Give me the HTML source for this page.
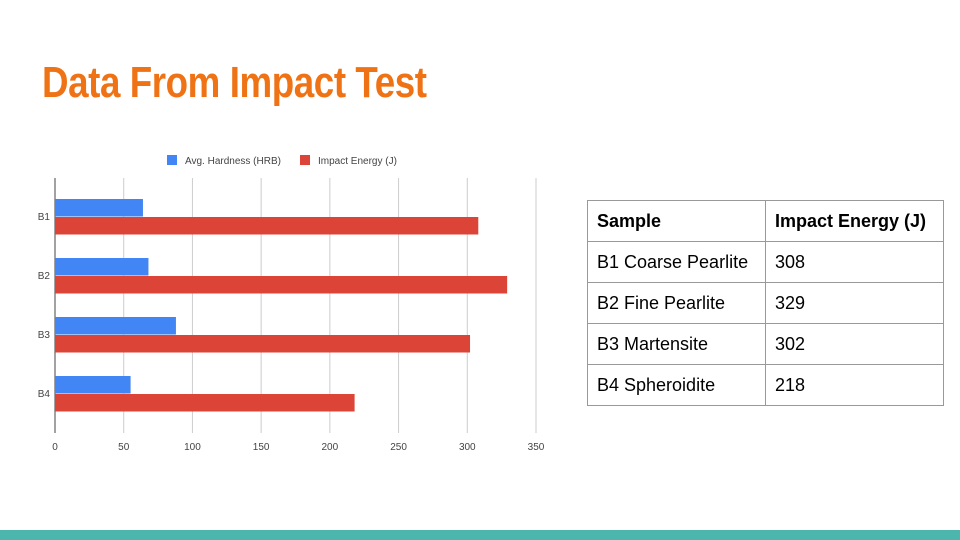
<!DOCTYPE html>
<html><head><meta charset="utf-8"><style>
body{margin:0;width:960px;height:540px;background:#fff;position:relative;overflow:hidden;font-family:"Liberation Sans",sans-serif}
#title{position:absolute;left:42px;top:58px;font-size:44px;font-weight:bold;color:#ef7215;white-space:nowrap;transform:scaleX(0.835);transform-origin:0 0;letter-spacing:-0.5px}
#tbl{position:absolute;left:587px;top:200px;border-collapse:collapse;font-size:18px;color:#000}
#tbl td{border:1px solid #999;height:41px;padding:0 9px;box-sizing:border-box}
#footer{position:absolute;left:0;top:530px;width:960px;height:10px;background:#4db6ac}
</style></head><body>
<div id="title">Data From Impact Test</div>
<svg id="chart" width="560" height="470" style="position:absolute;left:0;top:0"></svg>
<table id="tbl">
<tr><td style="width:178px;font-weight:bold">Sample</td><td style="width:178px;font-weight:bold">Impact Energy (J)</td></tr>
<tr><td>B1 Coarse Pearlite</td><td>308</td></tr>
<tr><td>B2 Fine Pearlite</td><td>329</td></tr>
<tr><td>B3 Martensite</td><td>302</td></tr>
<tr><td>B4 Spheroidite</td><td>218</td></tr>
</table>
<div id="footer"></div>
<script>
const categories=["B1","B2","B3","B4"];
const hardness=[64,68,88,55];
const impact=[308,329,302,218];
const xTicks=[0,50,100,150,200,250,300,350];
const svg=document.getElementById('chart');
const NS='http://www.w3.org/2000/svg';
const x0=55,pxPer=481/350,top0=178,bandH=59;
function xs(v){return x0+v*pxPer;}
function mk(t,a){const e=document.createElementNS(NS,t);for(const k in a)e.setAttribute(k,a[k]);svg.appendChild(e);return e;}
xTicks.forEach(t=>{
 const g=mk('line',{x1:xs(t),x2:xs(t),y1:178,y2:433,stroke:t===0?'#444':'#ccc','stroke-width':1});
 
 
 const l=mk('text',{x:xs(t),y:450,'text-anchor':'middle','font-size':10,fill:'#444','font-family':'Liberation Sans'});
 l.textContent=t;
 
 
});
categories.forEach((c,i)=>{
 const cy=top0+bandH*i+39;
 const b=mk('rect',{x:x0,y:cy-18,width:xs(hardness[i])-x0,height:17.5,fill:'#4285f4'});
 
 
 const r=mk('rect',{x:x0,y:cy,width:xs(impact[i])-x0,height:17.5,fill:'#db4437'});
 
 
 const l=mk('text',{x:50,y:cy+3,'text-anchor':'end','font-size':10,fill:'#444','font-family':'Liberation Sans'});
 l.textContent=c;
 
 
});
const legend=[["Avg. Hardness (HRB)","#4285f4",167],["Impact Energy (J)","#db4437",300]];
legend.forEach(([t,col,x])=>{
 const s=mk('rect',{x:x,y:155,width:10,height:10,fill:col});
 
 
 const l=mk('text',{x:x+18,y:164,'font-size':10,fill:'#444','font-family':'Liberation Sans'});
 l.textContent=t;
 
 
});
</script>
</body></html>
